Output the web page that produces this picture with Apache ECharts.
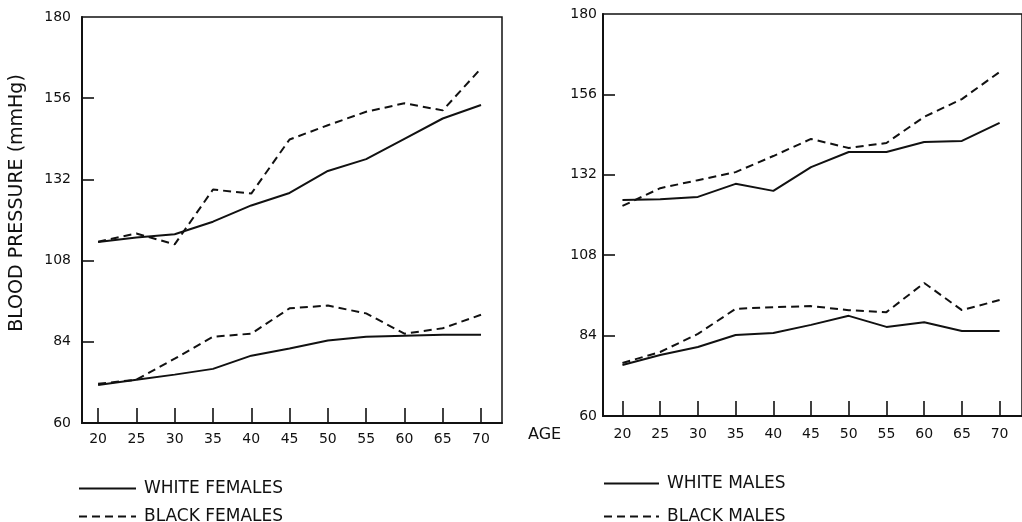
<!DOCTYPE html>
<html>
<head>
<meta charset="utf-8">
<script src="https://cdn.jsdelivr.net/npm/echarts@6/dist/echarts.min.js"></script>
<style>
html,body{margin:0;padding:0;background:#fff;}
#chart{width:1022px;height:522px;}
</style>
</head>
<body>
<div id="chart"></div>
<script>
// ---- data ----
const ages = [20, 25, 30, 35, 40, 45, 50, 55, 60, 65, 70];
const yTickValues = [60, 84, 108, 132, 156, 180];
const yInnerTicks = [84, 108, 132, 156];

const whiteFemalesSys = [113.5, 114.8, 115.8, 119.5, 124.3, 128, 134.5, 138, 144, 150, 154];
const blackFemalesSys = [113.6, 116, 112.8, 129, 127.8, 143.8, 148, 152, 154.5, 152.4, 164.8];
const whiteFemalesDia = [71.2, 72.8, 74.3, 76, 79.9, 82, 84.4, 85.5, 85.8, 86.1, 86.1];
const blackFemalesDia = [71.6, 72.8, 79, 85.5, 86.4, 93.9, 94.7, 92.4, 86.4, 88, 92];

const whiteMalesSys = [124.5, 124.7, 125.4, 129.3, 127.2, 134.3, 138.8, 138.8, 141.8, 142.1, 147.5];
const blackMalesSys = [122.7, 128, 130.4, 132.8, 137.6, 142.7, 140, 141.5, 149.3, 154.6, 162.7];
const whiteMalesDia = [75.2, 78.2, 80.6, 84.2, 84.8, 87.2, 89.9, 86.6, 88, 85.4, 85.4];
const blackMalesDia = [75.8, 79.1, 84.5, 92, 92.5, 92.8, 91.6, 91, 99.7, 91.6, 94.6];

const pairs = arr => ages.map((a, i) => [a, arr[i]]);

const INK = '#111';
const FONT = 'DejaVu Sans';

function lineSeries(name, arr, idx, dashed) {
  return {
    type: 'line', name: name, data: pairs(arr),
    xAxisIndex: idx, yAxisIndex: idx,
    symbol: 'none', smooth: false, animation: false,
    lineStyle: { color: INK, width: 2, type: dashed ? [8, 5] : 'solid' },
    itemStyle: { color: INK }
  };
}

function xAxis(idx, min, max, margin) {
  return {
    type: 'value', gridIndex: idx, min: min, max: max,
    axisLine: { show: true, lineStyle: { color: INK, width: 2 } },
    axisTick: { show: true, inside: true, length: 15, customValues: ages, lineStyle: { color: INK, width: 1.6 } },
    axisLabel: { customValues: ages, margin: margin, color: INK, fontFamily: FONT, fontSize: 14 },
    splitLine: { show: false }
  };
}

function yAxis(idx, margin) {
  return {
    type: 'value', gridIndex: idx, min: 60, max: 180,
    axisLine: { show: true, lineStyle: { color: INK, width: 2 } },
    axisTick: { show: true, inside: true, length: 12, customValues: yInnerTicks, lineStyle: { color: INK, width: 1.6 } },
    axisLabel: { customValues: yTickValues, margin: margin, color: INK, fontFamily: FONT, fontSize: 14 },
    splitLine: { show: false }
  };
}

function legendItem(name, left, top, width) {
  return {
    data: [name], orient: 'horizontal', left: left, top: top, padding: 0,
    itemWidth: width, itemHeight: 14,
    itemStyle: { opacity: 0, color: 'transparent', borderWidth: 0 },
    textStyle: { color: INK, fontFamily: FONT, fontSize: 17, padding: [0, 0, 0, 3] },
    selectedMode: false
  };
}

const chart = echarts.init(document.getElementById('chart'), null, { renderer: 'canvas' });
chart.setOption({
  backgroundColor: '#fff',
  animation: false,
  grid: [
    { left: 82, top: 17, width: 420, height: 406, show: true, borderColor: INK, borderWidth: 1.5, backgroundColor: 'transparent' },
    { left: 603, top: 14, width: 430, height: 402, show: true, borderColor: INK, borderWidth: 1.5, backgroundColor: 'transparent' }
  ],
  xAxis: [ xAxis(0, 17.9, 72.74, 9), xAxis(1, 17.42, 72.97, 11) ],
  yAxis: [ yAxis(0, 11), yAxis(1, 6) ],
  legend: [
    legendItem('WHITE FEMALES', 78, 480, 57),
    legendItem('BLACK FEMALES', 78, 508, 57),
    legendItem('WHITE MALES', 603, 475, 55),
    legendItem('BLACK MALES', 603, 508, 55)
  ],
  graphic: [
    { type: 'text', x: 17, y: 203, rotation: Math.PI / 2,
      style: { text: 'BLOOD PRESSURE (mmHg)', fill: INK, font: '19px "DejaVu Sans"', align: 'center', verticalAlign: 'middle' } },
    { type: 'text', left: 528, top: 427, style: { text: 'AGE', fill: INK, font: '16px "DejaVu Sans"' } }
  ],
  series: [
    lineSeries('WHITE FEMALES', whiteFemalesSys, 0, false),
    lineSeries('BLACK FEMALES', blackFemalesSys, 0, true),
    lineSeries('WHITE FEMALES', whiteFemalesDia, 0, false),
    lineSeries('BLACK FEMALES', blackFemalesDia, 0, true),
    lineSeries('WHITE MALES', whiteMalesSys, 1, false),
    lineSeries('BLACK MALES', blackMalesSys, 1, true),
    lineSeries('WHITE MALES', whiteMalesDia, 1, false),
    lineSeries('BLACK MALES', blackMalesDia, 1, true)
  ]
});
</script>
</body>
</html>
